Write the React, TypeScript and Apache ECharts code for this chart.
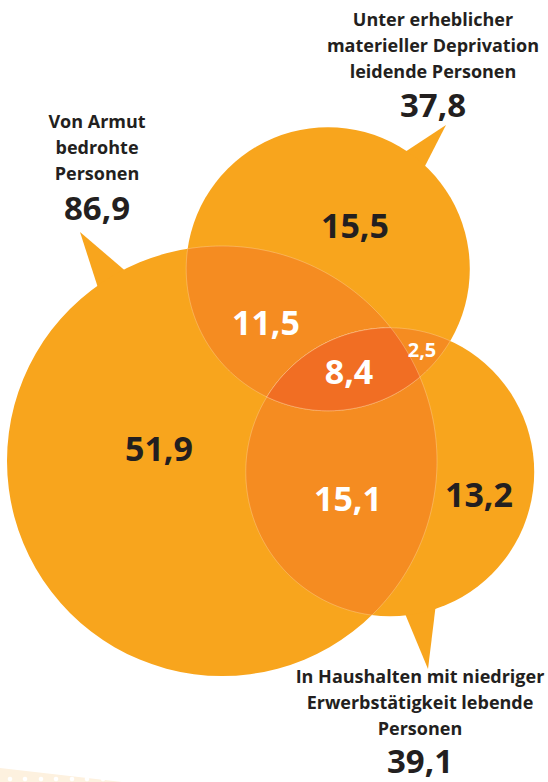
import React, { useEffect, useRef } from "react";
import * as echarts from "echarts";

// ---------- data ----------
const setNames: string[][] = [
  ["Von Armut", "bedrohte", "Personen"],
  ["Unter erheblicher", "materieller Deprivation", "leidende Personen"],
  ["In Haushalten mit niedriger", "Erwerbstätigkeit lebende", "Personen"],
];
const setTotals: number[] = [86.9, 37.8, 39.1];
const regionKeys: string[] = ["A", "B", "C", "AB", "AC", "BC", "ABC"];
const regionValues: number[] = [51.9, 15.5, 13.2, 11.5, 15.1, 2.5, 8.4];

// ---------- layout (pixel-like data space 548 x 782) ----------
const CENTERS: number[][] = [
  [222, 461],
  [328, 269],
  [390, 472],
];
const R_MAX = 215;
const TAIL_ANGLES: number[][] = [
  [-116.8, -125.7],
  [-56.9, -46.4],
  [84.1, 71.1],
];
const TAIL_TIPS: number[][] = [
  [80, 232],
  [446, 125],
  [428, 669],
];
const REGION_POS: Record<string, number[]> = {
  A: [159, 448],
  B: [355, 225],
  C: [479, 494],
  AB: [266, 322],
  AC: [348, 498],
  BC: [422, 349],
  ABC: [349, 371],
};
// [centre x, first name line y, total y]
const SET_LABEL_POS: number[][] = [
  [97, 121, 207],
  [433, 19, 104],
  [420, 676, 760],
];
const LINE_GAP = 25.8;

const BASE = "#F8A51D";
const DOUBLE = "#F58C21";
const TRIPLE = "#F16E23";
const DARK = "#231F20";
const FONT = "'Open Sans', 'Noto Sans', sans-serif";

const fmt = (v: number) => v.toFixed(1).replace(".", ",");
const maxTotal = Math.max(...setTotals);
const radius = (i: number) => R_MAX * Math.sqrt(setTotals[i] / maxTotal);
const members = (key: string) => key.split("").map((ch) => "ABC".indexOf(ch));

function intersections(i: number, j: number): number[][] {
  const [x1, y1] = CENTERS[i];
  const [x2, y2] = CENTERS[j];
  const r1 = radius(i);
  const r2 = radius(j);
  const d = Math.hypot(x2 - x1, y2 - y1);
  if (d > r1 + r2 || d < Math.abs(r1 - r2)) return [];
  const a = (r1 * r1 - r2 * r2 + d * d) / (2 * d);
  const h = Math.sqrt(Math.max(0, r1 * r1 - a * a));
  const xm = x1 + (a * (x2 - x1)) / d;
  const ym = y1 + (a * (y2 - y1)) / d;
  return [
    [xm + (h * (y2 - y1)) / d, ym - (h * (x2 - x1)) / d],
    [xm - (h * (y2 - y1)) / d, ym + (h * (x2 - x1)) / d],
  ];
}

function regionPolygon(idx: number[]): number[][] {
  const inside = (p: number[], skip: number, tol: number) =>
    idx.every(
      (c) =>
        c === skip ||
        Math.hypot(p[0] - CENTERS[c][0], p[1] - CENTERS[c][1]) <= radius(c) + tol
    );
  const pts: number[][] = [];
  const N = 1440;
  idx.forEach((c) => {
    const r = radius(c);
    for (let s = 0; s < N; s++) {
      const a = (s / N) * Math.PI * 2;
      const p = [CENTERS[c][0] + r * Math.cos(a), CENTERS[c][1] + r * Math.sin(a)];
      if (inside(p, c, 1e-6)) pts.push(p);
    }
  });
  for (let a = 0; a < idx.length; a++) {
    for (let b = a + 1; b < idx.length; b++) {
      intersections(idx[a], idx[b]).forEach((p) => {
        if (inside(p, -1, 1e-3)) pts.push(p);
      });
    }
  }
  const cx = pts.reduce((s, p) => s + p[0], 0) / pts.length;
  const cy = pts.reduce((s, p) => s + p[1], 0) / pts.length;
  pts.sort((p, q) => Math.atan2(p[1] - cy, p[0] - cx) - Math.atan2(q[1] - cy, q[0] - cx));
  return pts;
}

export default function App() {
  const ref = useRef<HTMLDivElement>(null);

  useEffect(() => {
    document.body.style.margin = "0";
    if (!ref.current) return;
    const chart = echarts.init(ref.current, undefined, { renderer: "svg" });

    const tailData = setTotals.map((_, i) => [CENTERS[i][0], CENTERS[i][1], i]);
    const circleData = setTotals.map((v, i) => [CENTERS[i][0], CENTERS[i][1], v, i]);
    const overlapData = regionKeys
      .map((k, i) => ({ k, i }))
      .filter((o) => o.k.length > 1)
      .map((o) => [REGION_POS[o.k][0], REGION_POS[o.k][1], o.i]);
    const regionLabelData = regionKeys.map((k, i) => [
      REGION_POS[k][0],
      REGION_POS[k][1],
      regionValues[i],
      i,
    ]);
    const setLabelData = setTotals.map((v, i) => [SET_LABEL_POS[i][0], SET_LABEL_POS[i][1], v, i]);

    const option: any = {
      animation: false,
      grid: { left: 0, right: 0, top: 0, bottom: 0 },
      xAxis: { type: "value", min: 0, max: 548, show: false },
      yAxis: { type: "value", min: 0, max: 782, inverse: true, show: false },
      graphic: [
        {
          type: "polygon",
          shape: { points: [[0, 768], [122, 782], [0, 782]] },
          style: { fill: "#FDF1DF" },
          silent: true,
        },
        ...[10, 25, 41, 56, 72, 87, 103].map((x) => ({
          type: "circle",
          shape: { cx: x, cy: 779, r: 2.3 },
          style: { fill: "#FFFFFF" },
          silent: true,
        })),
      ],
      series: [
        {
          type: "custom",
          name: "tails",
          coordinateSystem: "cartesian2d",
          clip: false,
          silent: true,
          data: tailData,
          renderItem: (_p: any, api: any) => {
            const i = api.value(2);
            const r = radius(i);
            const c = CENTERS[i];
            const pts = TAIL_ANGLES[i].map((deg) => {
              const a = (deg * Math.PI) / 180;
              return api.coord([c[0] + (r - 3) * Math.cos(a), c[1] + (r - 3) * Math.sin(a)]);
            });
            const tip = api.coord(TAIL_TIPS[i]);
            return {
              type: "polygon",
              shape: { points: [pts[0], tip, pts[1]] },
              style: { fill: BASE },
            };
          },
        },
        {
          type: "custom",
          name: "sets",
          coordinateSystem: "cartesian2d",
          clip: false,
          silent: true,
          data: circleData,
          renderItem: (_p: any, api: any) => {
            const i = api.value(3);
            const c = api.coord([api.value(0), api.value(1)]);
            const r = api.size([radius(i), 0])[0];
            return {
              type: "circle",
              shape: { cx: c[0], cy: c[1], r },
              style: { fill: BASE },
            };
          },
        },
        {
          type: "custom",
          name: "overlaps",
          coordinateSystem: "cartesian2d",
          clip: false,
          silent: true,
          data: overlapData,
          renderItem: (_p: any, api: any) => {
            const ri = api.value(2);
            const key = regionKeys[ri];
            const poly = regionPolygon(members(key)).map((p) => api.coord(p));
            return {
              type: "polygon",
              shape: { points: poly },
              style: {
                fill: key.length === 3 ? TRIPLE : DOUBLE,
                stroke: "rgba(255,236,210,0.45)",
                lineWidth: 0.7,
              },
            };
          },
        },
        {
          type: "custom",
          name: "regionLabels",
          coordinateSystem: "cartesian2d",
          clip: false,
          silent: true,
          data: regionLabelData,
          renderItem: (_p: any, api: any) => {
            const ri = api.value(3);
            const key = regionKeys[ri];
            const p = api.coord([api.value(0), api.value(1)]);
            const small = key === "BC";
            return {
              type: "text",
              x: p[0],
              y: p[1],
              style: {
                text: fmt(api.value(2)),
                fill: key.length > 1 ? "#FFFFFF" : DARK,
                fontSize: small ? 20 : 34,
                fontWeight: "bold",
                fontFamily: FONT,
                align: "center",
                verticalAlign: "middle",
              },
            };
          },
        },
        {
          type: "custom",
          name: "setLabels",
          coordinateSystem: "cartesian2d",
          clip: false,
          silent: true,
          data: setLabelData,
          renderItem: (_p: any, api: any) => {
            const i = api.value(3);
            const x = api.value(0);
            const y0 = api.value(1);
            const children: any[] = setNames[i].map((line, li) => {
              const p = api.coord([x, y0 + li * LINE_GAP]);
              return {
                type: "text",
                x: p[0],
                y: p[1],
                style: {
                  text: line,
                  fill: DARK,
                  fontSize: 18,
                  fontWeight: "bold",
                  fontFamily: FONT,
                  align: "center",
                  verticalAlign: "middle",
                },
              };
            });
            const pt = api.coord([x, SET_LABEL_POS[i][2]]);
            children.push({
              type: "text",
              x: pt[0],
              y: pt[1],
              style: {
                text: fmt(api.value(2)),
                fill: DARK,
                fontSize: 33,
                fontWeight: "bold",
                fontFamily: FONT,
                align: "center",
                verticalAlign: "middle",
              },
            });
            return { type: "group", children };
          },
        },
      ],
    };

    chart.setOption(option);
    return () => chart.dispose();
  }, []);

  return <div ref={ref} style={{ width: 548, height: 782 }} />;
}
